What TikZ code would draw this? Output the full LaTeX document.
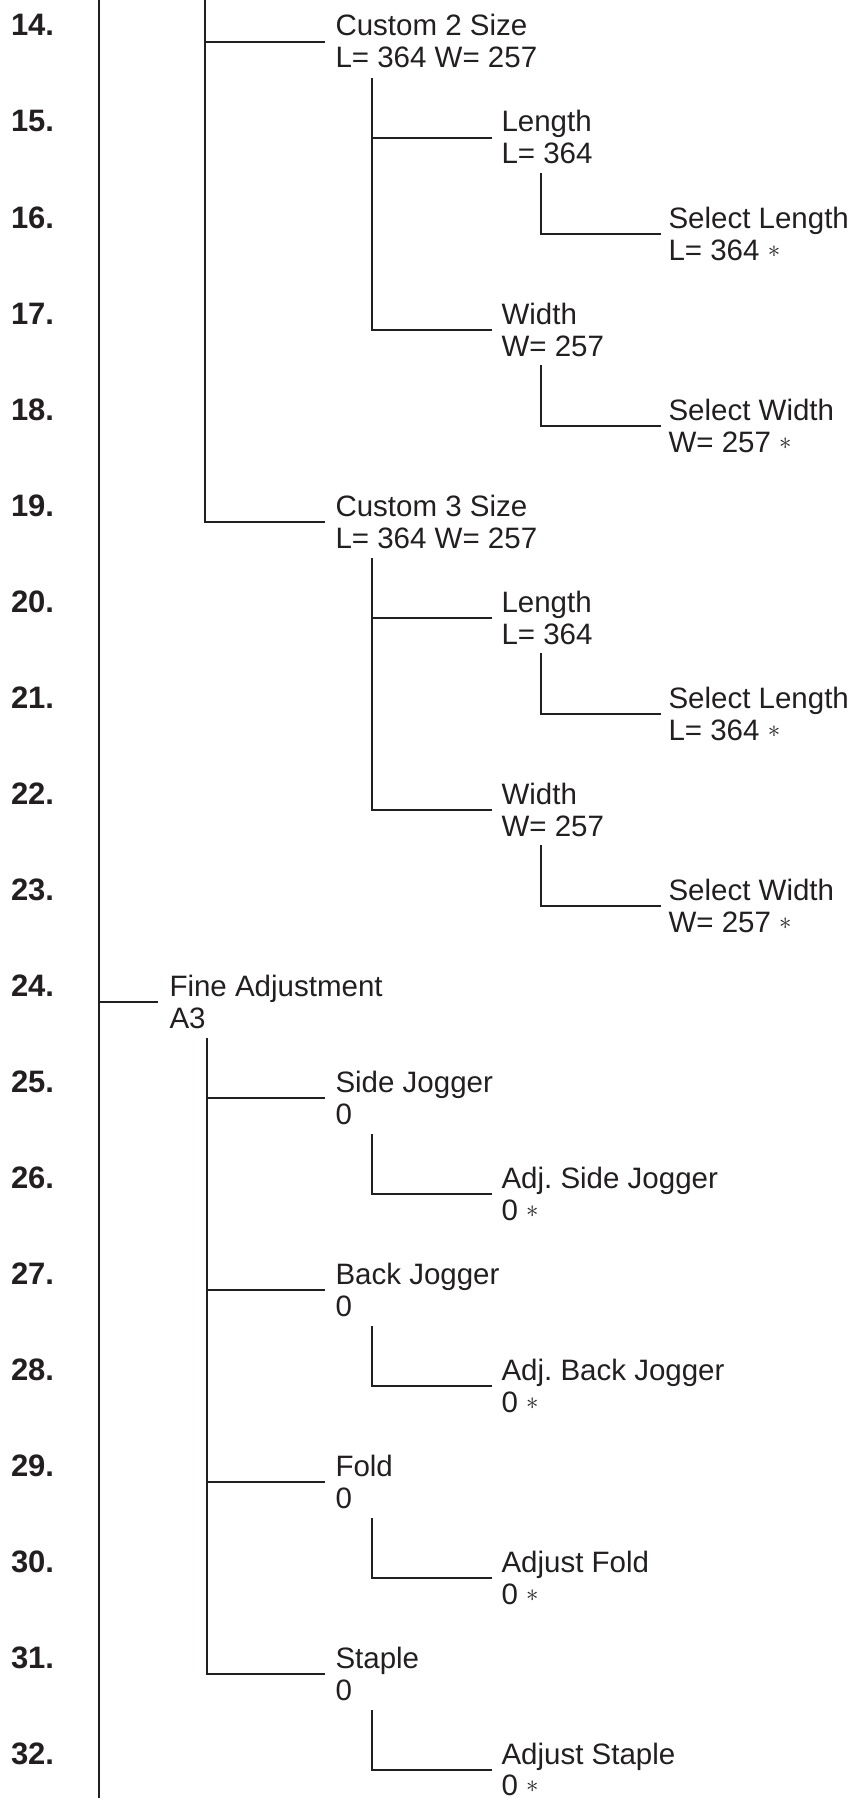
\documentclass[tikz,border=0pt]{standalone}
\usepackage{fontspec}
\setmainfont{Liberation Sans}
\usetikzlibrary{calc}
\frenchspacing
\definecolor{ink}{RGB}{35,31,32}
\newcommand\astmark{\raisebox{2.5pt}{$\ast$}}
\tikzset{
  lbl/.style={anchor=base west, inner sep=0pt, outer sep=0pt, text=ink, font=\fontsize{29.5}{32}\selectfont},
  num/.style={anchor=base west, inner sep=0pt, outer sep=0pt, text=ink, font=\fontsize{31}{33}\selectfont\bfseries},
  wire/.style={draw=ink, line width=2pt}
}
\begin{document}
\begin{tikzpicture}[x=1pt,y=-1pt]
\useasboundingbox (0,0) rectangle (852,1798);
% row numbers
\foreach \n in {14,...,32}{
  \node[num] (n\n) at (11,{42+(\n-14)*96-6}) {\n.};
}
% level 2 (Custom sizes)
\node[lbl] (t14) at (335.5,36) {Custom 2 Size};
\node[lbl] (v14) at (335.5,68) {L= 364 W= 257};
\node[lbl] (t15) at (501.5,132) {Length};
\node[lbl] (v15) at (501.5,164) {L= 364};
\node[lbl] (t16) at (668.5,228) {Select Length};
\node[lbl] (v16) at (668.5,260) {L= 364 \astmark};
\node[lbl] (t17) at (501.5,324) {Width};
\node[lbl] (v17) at (501.5,356) {W= 257};
\node[lbl] (t18) at (668.5,420) {Select Width};
\node[lbl] (v18) at (668.5,452) {W= 257 \astmark};
\node[lbl] (t19) at (335.5,516) {Custom 3 Size};
\node[lbl] (v19) at (335.5,548) {L= 364 W= 257};
\node[lbl] (t20) at (501.5,612) {Length};
\node[lbl] (v20) at (501.5,644) {L= 364};
\node[lbl] (t21) at (668.5,708) {Select Length};
\node[lbl] (v21) at (668.5,740) {L= 364 \astmark};
\node[lbl] (t22) at (501.5,804) {Width};
\node[lbl] (v22) at (501.5,836) {W= 257};
\node[lbl] (t23) at (668.5,900) {Select Width};
\node[lbl] (v23) at (668.5,932) {W= 257 \astmark};
% level 1 (Fine Adjustment)
\node[lbl] (t24) at (169.5,996) {Fine Adjustment};
\node[lbl] (v24) at (169.5,1028) {A3};
\node[lbl] (t25) at (335.5,1092) {Side Jogger};
\node[lbl] (v25) at (335.5,1124) {0};
\node[lbl] (t26) at (501.5,1188) {Adj. Side Jogger};
\node[lbl] (v26) at (501.5,1220) {0 \astmark};
\node[lbl] (t27) at (335.5,1284) {Back Jogger};
\node[lbl] (v27) at (335.5,1316) {0};
\node[lbl] (t28) at (501.5,1380) {Adj. Back Jogger};
\node[lbl] (v28) at (501.5,1412) {0 \astmark};
\node[lbl] (t29) at (335.5,1476) {Fold};
\node[lbl] (v29) at (335.5,1508) {0};
\node[lbl] (t30) at (501.5,1572) {Adjust Fold};
\node[lbl] (v30) at (501.5,1604) {0 \astmark};
\node[lbl] (t31) at (335.5,1668) {Staple};
\node[lbl] (v31) at (335.5,1700) {0};
\node[lbl] (t32) at (501.5,1764) {Adjust Staple};
\node[lbl] (v32) at (501.5,1795) {0 \astmark};
% free ends
\coordinate (top0) at (98.5,0);
\coordinate (bot0) at (98.5,1798);
\coordinate (top1) at (205,0);
% connectors
\draw[wire] (top0) -- (bot0);
\draw[wire] (top0 |- {$(t24.base west)+(0,6)$}) -- ($(t24.base west)+(-11.5,6)$);
\draw[wire] (top1) |- ($(t14.base west)+(-10.5,6)$);
\draw[wire] (top1) |- ($(t19.base west)+(-10.5,6)$);
\foreach \p/\c in {14/15,14/17,19/20,19/22,27/28,29/30,31/32,25/26}{
  \draw[wire] ($(t\p.base west)+(36.5,42)$) |- ($(t\c.base west)+(-9.5,6)$);
}
\foreach \p/\c in {15/16,17/18,20/21,22/23}{
  \draw[wire] ($(v\p.base west)+(39.5,9)$) |- ($(t\c.base west)+(-7.5,6)$);
}
\foreach \c in {25,27,29,31}{
  \draw[wire] ($(v24.base west)+(37.5,10)$) |- ($(t\c.base west)+(-10.5,6)$);
}
\end{tikzpicture}
\end{document}
